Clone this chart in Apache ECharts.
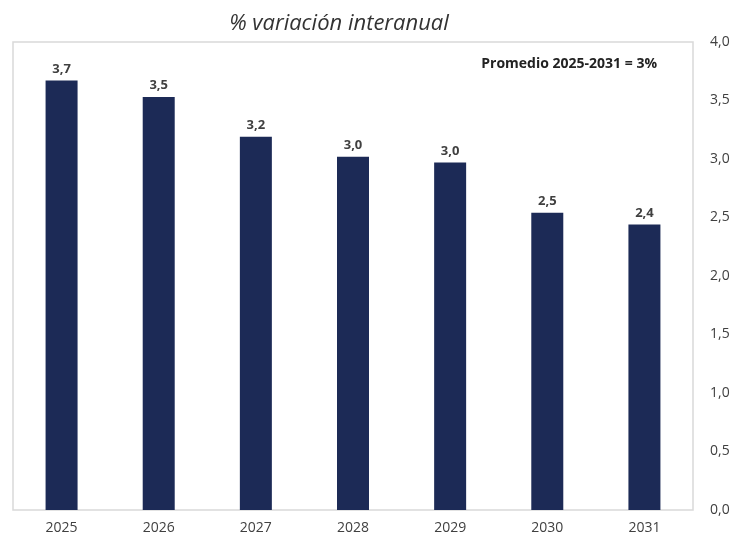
<!DOCTYPE html>
<html>
<head>
<meta charset="utf-8">
<script src="https://cdn.jsdelivr.net/npm/echarts@6/dist/echarts.min.js"></script>
<style>
  html, body { margin: 0; padding: 0; background: #fff; }
  #chart { width: 746px; height: 535px; }
</style>
</head>
<body>
<div id="chart"></div>
<script>
// datos
var years = ['2025', '2026', '2027', '2028', '2029', '2030', '2031']
var variacion = [3.67, 3.53, 3.19, 3.02, 2.97, 2.54, 2.44]
var yTicks = { min: 0, max: 4, interval: 0.5 }

var fmt = function (v) {
  return v.toFixed(1).replace('.', ',')
}

var chart = echarts.init(document.getElementById('chart'))
chart.setOption({
  animation: false,
  textStyle: { fontFamily: 'Open Sans' },
  title: [
    {
      text: '% variación interanual',
      left: 334,
      top: 8,
      textAlign: 'center',
      textStyle: { fontSize: 22, fontStyle: 'italic', fontWeight: 'normal', color: '#333' }
    },
    {
      text: 'Promedio 2025-2031 = 3%',
      right: 84,
      top: 52,
      textStyle: { fontSize: 14, fontWeight: 'bold', color: '#222' }
    }
  ],
  grid: {
    left: 13,
    right: 53,
    top: 42,
    bottom: 25,
    show: true,
    borderColor: '#d9d9d9',
    borderWidth: 1.5
  },
  xAxis: {
    type: 'category',
    data: years,
    axisLine: { show: false },
    axisTick: { show: false },
    axisLabel: { color: '#404040', fontSize: 14, margin: 11 }
  },
  yAxis: {
    type: 'value',
    position: 'right',
    min: yTicks.min,
    max: yTicks.max,
    interval: yTicks.interval,
    splitLine: { show: false },
    axisLine: { show: false },
    axisTick: { show: false },
    axisLabel: { color: '#404040', fontSize: 14, margin: 17, formatter: fmt }
  },
  series: [
    {
      type: 'bar',
      data: variacion,
      barWidth: 32,
      itemStyle: { color: '#1c2a56' },
      label: {
        show: true,
        position: 'top',
        distance: 5,
        color: '#404040',
        fontSize: 13,
        fontWeight: 'bold',
        formatter: function (p) { return fmt(p.value) }
      }
    }
  ]
})
</script>
</body>
</html>
